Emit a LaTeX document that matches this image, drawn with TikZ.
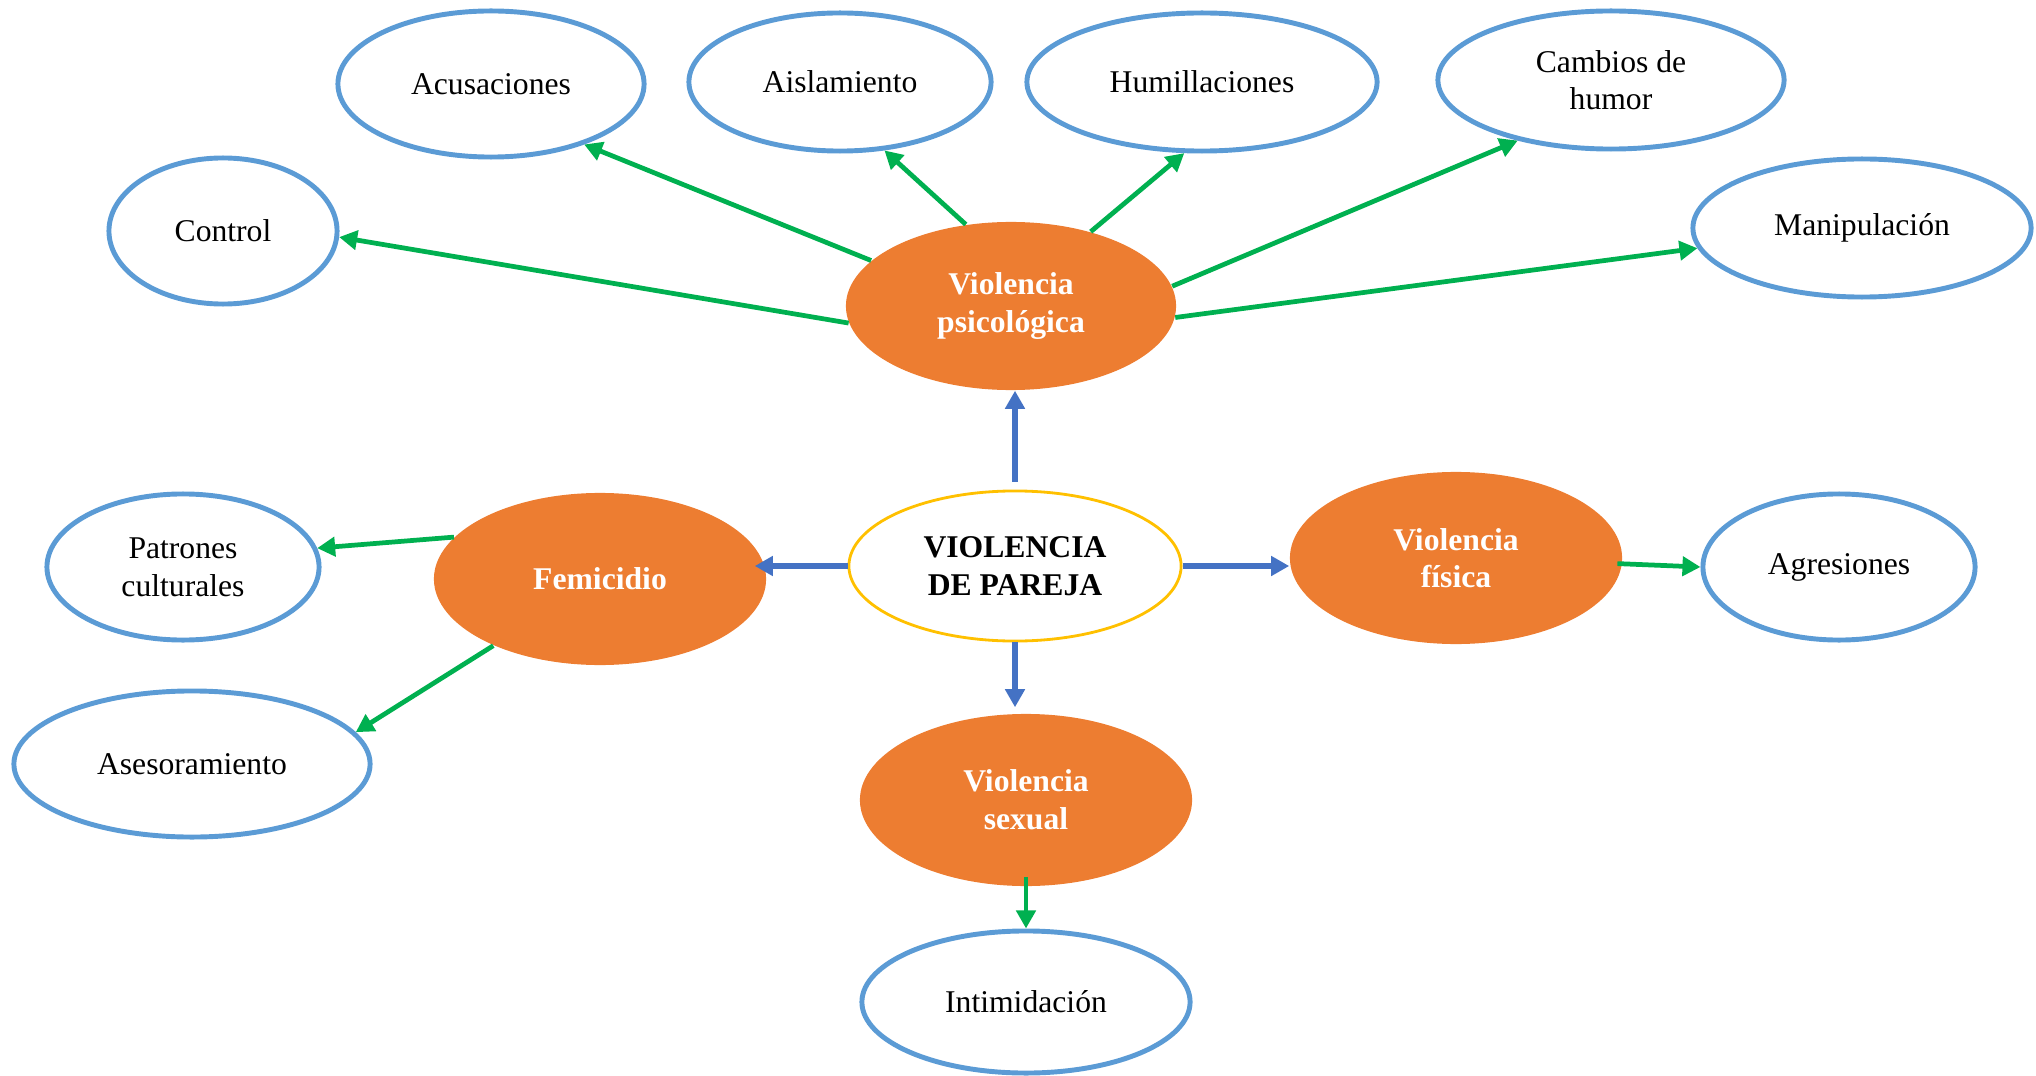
\documentclass[tikz,border=0pt]{standalone}
\usepackage{fontspec}
\setmainfont{Liberation Serif}
\usetikzlibrary{arrows.meta,shapes.geometric}

\definecolor{borde}{HTML}{5B9BD5}
\definecolor{naranja}{HTML}{ED7D31}
\definecolor{verde}{HTML}{00B050}
\definecolor{azul}{HTML}{4472C4}
\definecolor{oro}{HTML}{FFC000}

\begin{document}
\begin{tikzpicture}[x=0.01cm,y=-0.01cm,>={Triangle[length=1.8mm,width=1.9mm]},
	leaf/.style={ellipse,draw=borde,line width=1.4pt,fill=white,inner sep=0pt,
		align=center,font=\fontsize{9}{10.7}\selectfont},
	tipo/.style={ellipse,fill=naranja,text=white,inner sep=0pt,align=center,
		font=\fontsize{9}{10.7}\selectfont\bfseries,
		minimum width=3.32cm,minimum height=1.72cm},
	garrow/.style={->,draw=verde,line width=1.35pt},
	barrow/.style={->,draw=azul,line width=1.6pt}]

\useasboundingbox (0,0) rectangle (2036,1076);

% centro
\node[ellipse,draw=oro,line width=0.8pt,inner sep=0pt,align=center,
	font=\fontsize{9}{10.7}\selectfont\bfseries,
	minimum width=3.32cm,minimum height=1.5cm] (pareja) at (1015,566) {VIOLENCIA\\DE PAREJA};

% tipos
\node[tipo,minimum width=3.3cm,minimum height=1.68cm] (psico) at (1011,306) {Violencia\\psicológica};
\node[tipo] (femicidio) at (600,579) {Femicidio};
\node[tipo] (fisica) at (1456,558) {Violencia\\física};
\node[tipo] (sexual) at (1026,800) {Violencia\\sexual};

% formas
\node[leaf,minimum width=2.28cm,minimum height=1.46cm] (control) at (223,231) {Control};
\node[leaf,minimum width=3.06cm,minimum height=1.46cm] (acusaciones) at (491,84) {Acusaciones};
\node[leaf,minimum width=3.02cm,minimum height=1.38cm] (aislamiento) at (840,82) {Aislamiento};
\node[leaf,minimum width=3.5cm,minimum height=1.38cm] (humillaciones) at (1202,82) {Humillaciones};
\node[leaf,minimum width=3.46cm,minimum height=1.38cm] (cambios) at (1611,80) {Cambios de\\humor};
\node[leaf,minimum width=3.38cm,minimum height=1.38cm] (manipulacion) at (1862,228) {Manipulación};
\node[leaf,minimum width=2.72cm,minimum height=1.46cm] (patrones) at (183,567) {Patrones\\culturales};
\node[leaf,minimum width=3.56cm,minimum height=1.46cm] (asesoramiento) at (192,764) {Asesoramiento};
\node[leaf,minimum width=2.72cm,minimum height=1.46cm] (agresiones) at (1839,567) {Agresiones};
\node[leaf,minimum width=3.28cm,minimum height=1.42cm] (intimidacion) at (1026,1002) {Intimidación};

% desde el centro
\draw[barrow,shorten <=0.08cm] (pareja.north) -- (pareja.north |- psico.south);
\draw[barrow,shorten >=-0.12cm] (pareja.west) -- (pareja.west -| femicidio.east);
\draw[barrow] (pareja.east) -- (pareja.east -| fisica.west);
\draw[barrow,shorten >=0.06cm] (pareja.south) -- (pareja.south |- sexual.north);

% psicologica
\draw[garrow] (psico.186) -- (control.-3);
\draw[garrow] (psico.162) -- (acusaciones.-33);
\draw[garrow] (psico.119) -- (aislamiento.-57);
\draw[garrow] (psico.43) -- (humillaciones.-104);
\draw[garrow] (psico.7) -- (cambios.213);
\draw[garrow] (psico.-4) -- (manipulacion.187);

% femicidio
\draw[garrow] (femicidio.164) -- (patrones.8);
\draw[garrow] (femicidio.212) -- (asesoramiento.11);

% fisica y sexual
\draw[garrow,shorten <=-0.05cm] (fisica.-2) -- (agresiones.west);
\draw[garrow,shorten <=-0.1cm] (sexual.south) -- (intimidacion.north);

\end{tikzpicture}
\end{document}
